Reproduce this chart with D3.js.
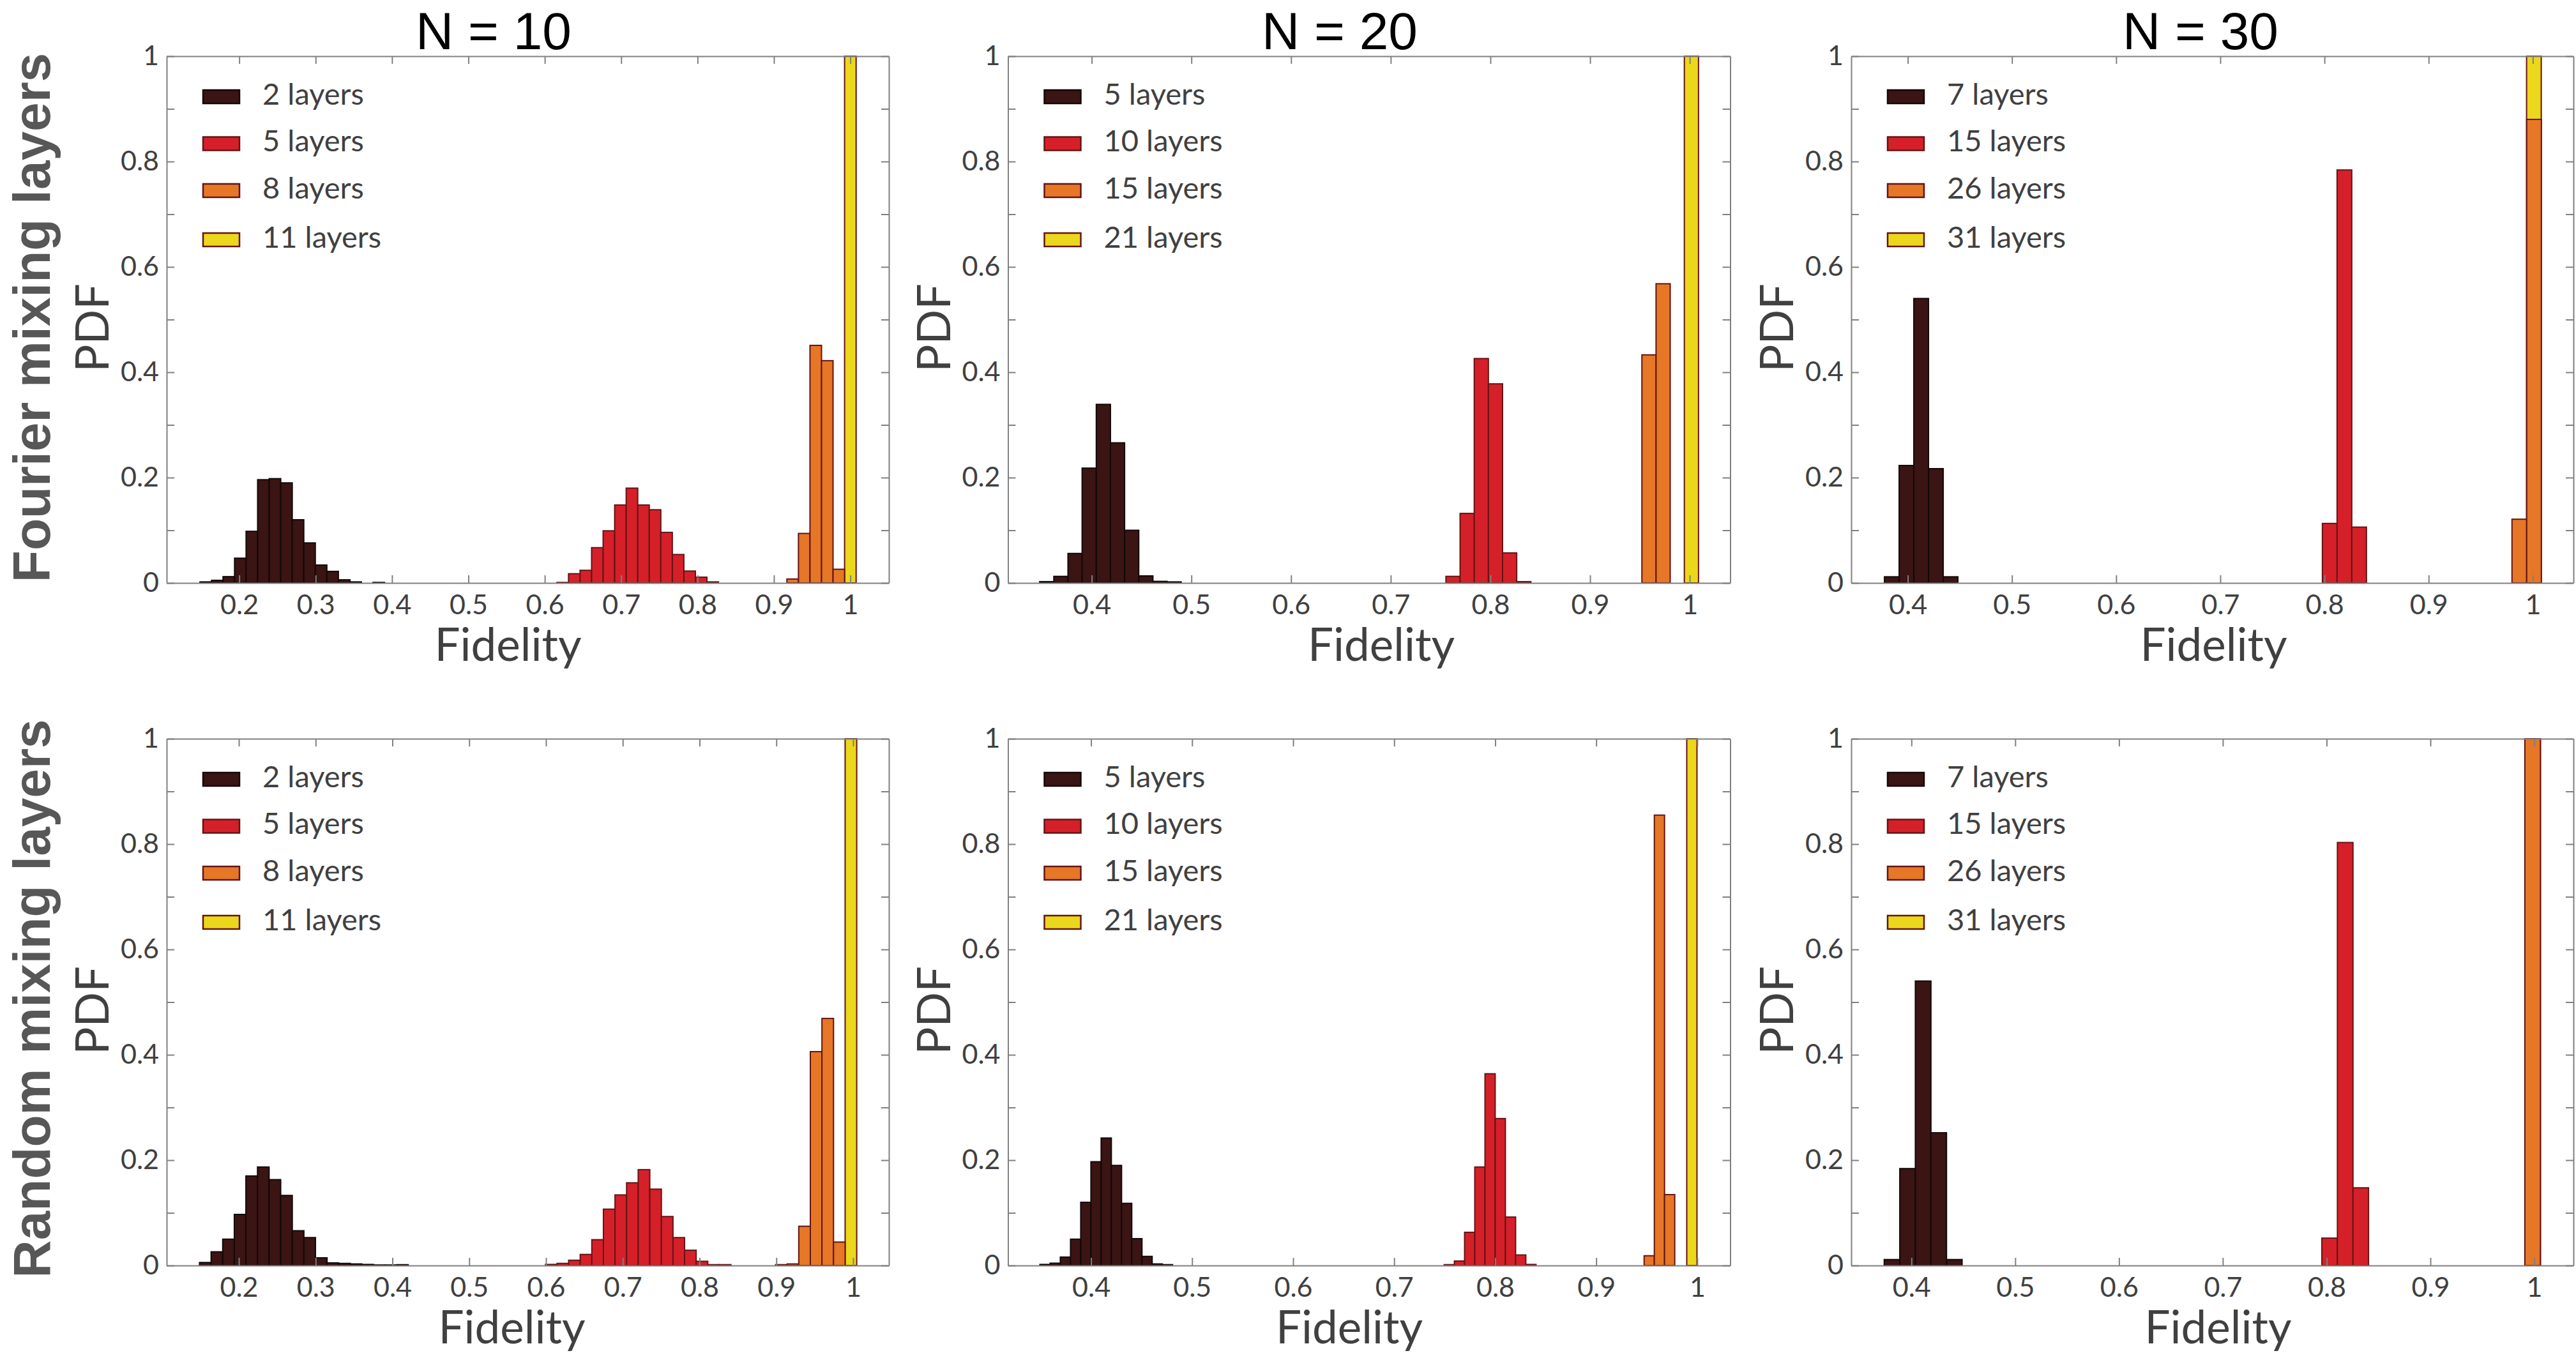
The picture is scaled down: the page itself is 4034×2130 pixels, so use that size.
<!DOCTYPE html>
<html>
<head>
<meta charset="utf-8">
<script src="https://cdn.jsdelivr.net/npm/d3@7"></script>
<style>
  body { margin: 0; background: #fff; }
</style>
</head>
<body>
<script>
// ---- data ----
const colTitles = ['N = 10', 'N = 20', 'N = 30'];
const rowTitles = ['Fourier mixing layers', 'Random mixing layers'];
const layerNames = [
  ['2 layers', '5 layers', '8 layers', '11 layers'],
  ['5 layers', '10 layers', '15 layers', '21 layers'],
  ['7 layers', '15 layers', '26 layers', '31 layers']
];

// x limits of the six panels (row by row)
const xLimits = [
  [0.105, 1.0505], [0.316, 1.0406], [0.3457, 1.039],
  [0.106, 1.0466], [0.3178, 1.0326], [0.342, 1.0378]
];
const xTicksN10 = [0.2, 0.3, 0.4, 0.5, 0.6, 0.7, 0.8, 0.9, 1];
const xTicksN20 = [0.4, 0.5, 0.6, 0.7, 0.8, 0.9, 1];
const yTicks = [0, 0.1, 0.2, 0.3, 0.4, 0.5, 0.6, 0.7, 0.8, 0.9, 1];
const yTickLabels = ['0', '', '0.2', '', '0.4', '', '0.6', '', '0.8', '', '1'];

// histogram bin widths and the left edge of each series' first bin
const binWidths = [0.0151, 0.0142, 0.0141, 0.0151, 0.0101, 0.0150];
const binStarts = [
  [0.1486, 0.616, 0.917, 0.9925],
  [0.3478, 0.7554, 0.952, 0.9946],
  [0.3776, 0.798, 0.980, 0.994],
  [0.1488, 0.5993, 0.899, 0.9896],
  [0.3494, 0.7495, 0.9474, 0.9896],
  [0.3738, 0.7954, 0.991, 0.991]
];

// PDF heights, one array per series
const fourier10 = [
  [0.002, 0.005, 0.012, 0.047, 0.098, 0.196, 0.198, 0.19, 0.12, 0.076, 0.034, 0.022, 0.006, 0.002, 0, 0.001],
  [0.001, 0.0175, 0.024, 0.067, 0.099, 0.148, 0.18, 0.148, 0.139, 0.096, 0.054, 0.0226, 0.011, 0.002],
  [0.0075, 0.094, 0.451, 0.422, 0.026],
  [1]
];
const fourier20 = [
  [0.0025, 0.0125, 0.056, 0.218, 0.339, 0.266, 0.1, 0.0134, 0.003, 0.002],
  [0.0125, 0.132, 0.426, 0.378, 0.057, 0.0025],
  [0.433, 0.568],
  [1]
];
const fourier30 = [
  [0.0117, 0.223, 0.54, 0.217, 0.0117],
  [0.113, 0.784, 0.106],
  [0.121, 0.88],
  [1]
];
const random10 = [
  [0.0057, 0.026, 0.05, 0.097, 0.17, 0.187, 0.163, 0.133, 0.066, 0.053, 0.0146, 0.005, 0.004, 0.003, 0.002, 0.001, 0.001, 0.0015],
  [0.002, 0.004, 0.01, 0.021, 0.049, 0.107, 0.134, 0.157, 0.182, 0.145, 0.093, 0.053, 0.029, 0.008, 0.0016, 0.0016],
  [0.0016, 0.003, 0.0745, 0.406, 0.469, 0.0445],
  [1]
];
const random20 = [
  [0.002, 0.0044, 0.016, 0.05, 0.12, 0.197, 0.242, 0.19, 0.118, 0.051, 0.0173, 0.003, 0.0016],
  [0.0016, 0.0085, 0.063, 0.187, 0.364, 0.279, 0.092, 0.02, 0.002],
  [0.0185, 0.855, 0.1346],
  [1]
];
const random30 = [
  [0.0113, 0.184, 0.54, 0.252, 0.0113],
  [0.052, 0.803, 0.1475],
  [1],
  [1]
];
const panelData = [fourier10, fourier20, fourier30, random10, random20, random30];

// ---- styles / layout ----
const W = 4034, H = 2130;
const fills = ['#3b1414', '#d5202a', '#e57726', '#ebd71b'];
const edges = ['#140808', '#641414', '#641414', '#641414'];
const colX = [261, 1578.5, 2899];
const rowY = [88, 1157];
const pw = 1131, ph = 825;
const labelFont = 'Lato, "Open Sans", sans-serif';
const textGrey = '#404040';
const axisGrey = '#808080';
const fidelityShift = [-31, 19, 2, -25, -31, 9];

const svg = d3.select('body')
    .append('svg')
    .attr('width', W)
    .attr('height', H)
    .style('background', '#fff');

//column titles
const titleX = [773, 2098, 3446];
colTitles.forEach((t, i) => {
    svg.append('text')
    .attr('x', titleX[i])
    .attr('y', 77)
    .attr('text-anchor', 'middle')
    .attr('font-family', '"Liberation Sans", Arial, sans-serif')
    .attr('font-size', '82px')
    .attr('fill', '#000')
    .text(t);
});

//row titles
const rowMid = [497.5, 1564];
rowTitles.forEach((t, i) => {
    svg.append('text')
    .attr('transform', `translate(78, ${rowMid[i]}) rotate(-90)`)
    .attr('text-anchor', 'middle')
    .attr('font-family', '"Liberation Sans", Arial, sans-serif')
    .attr('font-weight', 'bold')
    .attr('font-size', '82px')
    .attr('fill', '#575757')
    .text(t);
});

function styleAxis(g) {
    g.selectAll('path, line')
    .attr('stroke', axisGrey)
    .attr('stroke-width', 2);
    g.selectAll('text')
    .attr('font-family', labelFont)
    .attr('font-size', '43px')
    .attr('fill', textGrey);
}

panelData.forEach((series, p) => {
    const r = Math.floor(p / 3), c = p % 3;
    const x0 = colX[c], y0 = rowY[r];
    const xScale = d3.scaleLinear().domain(xLimits[p]).range([x0, x0 + pw]);
    const yScale = d3.scaleLinear().domain([0, 1]).range([y0 + ph, y0]);
    const panel = svg.append('g');

    // bars, drawn last series first so the front colours sit on top
    for (let s = series.length - 1; s >= 0; s--) {
        const w = binWidths[p];
        const bins = series[s].map((v, i) => ({x0: binStarts[p][s] + i * w, x1: binStarts[p][s] + (i + 1) * w, v: v}))
            .filter(d => d.v > 0);
        panel.append('g')
        .selectAll('rect')
        .data(bins)
        .join('rect')
        .attr('x', d => xScale(d.x0))
        .attr('width', d => xScale(d.x1) - xScale(d.x0))
        .attr('y', d => yScale(Math.min(d.v, 1)))
        .attr('height', d => yScale(0) - yScale(Math.min(d.v, 1)))
        .attr('fill', fills[s])
        .attr('stroke', edges[s])
        .attr('stroke-width', 2);
    }

    const xt = c === 0 ? xTicksN10 : xTicksN20;
    const fmt = d => d === 1 ? '1' : d3.format('.1f')(d);

    panel.append('g')
    .attr('transform', `translate(0, ${y0 + ph})`)
    .call(d3.axisBottom(xScale).tickValues(xt).tickFormat(fmt).tickSizeInner(-12).tickSizeOuter(0).tickPadding(18))
    .call(styleAxis);

    panel.append('g')
    .attr('transform', `translate(0, ${y0})`)
    .call(d3.axisTop(xScale).tickValues(xt).tickFormat('').tickSizeInner(-12).tickSizeOuter(0))
    .call(styleAxis);

    panel.append('g')
    .attr('transform', `translate(${x0}, 0)`)
    .call(d3.axisLeft(yScale).tickValues(yTicks).tickFormat((d, i) => yTickLabels[i]).tickSizeInner(-12).tickSizeOuter(0).tickPadding(12))
    .call(styleAxis);

    panel.append('g')
    .attr('transform', `translate(${x0 + pw}, 0)`)
    .call(d3.axisRight(yScale).tickValues(yTicks).tickFormat('').tickSizeInner(-12).tickSizeOuter(0))
    .call(styleAxis);

    // axis titles
    panel.append('text')
    .attr('x', x0 + pw / 2 + fidelityShift[p])
    .attr('y', y0 + ph + 122)
    .attr('text-anchor', 'middle')
    .attr('font-family', labelFont)
    .attr('font-size', '71px')
    .attr('fill', textGrey)
    .text('Fidelity');

    panel.append('text')
    .attr('transform', `translate(${x0 - 91}, ${y0 + ph / 2 + 13}) rotate(-90)`)
    .attr('text-anchor', 'middle')
    .attr('font-family', labelFont)
    .attr('font-size', '72px')
    .attr('fill', textGrey)
    .text('PDF');

    // legend
    const rowOff = [63.5, 137, 210.5, 287.5];
    const legend = panel.append('g');
    layerNames[c].forEach((name, s) => {
        legend.append('rect')
        .attr('x', x0 + 57)
        .attr('y', y0 + rowOff[s] - 10.5)
        .attr('width', 57)
        .attr('height', 21)
        .attr('fill', fills[s])
        .attr('stroke', edges[s])
        .attr('stroke-width', 2.5);
        legend.append('text')
        .attr('x', x0 + 150)
        .attr('y', y0 + rowOff[s] + 12)
        .attr('font-family', labelFont)
        .attr('font-size', '47px')
        .attr('fill', textGrey)
        .text(name);
    });
});
</script>
</body>
</html>
